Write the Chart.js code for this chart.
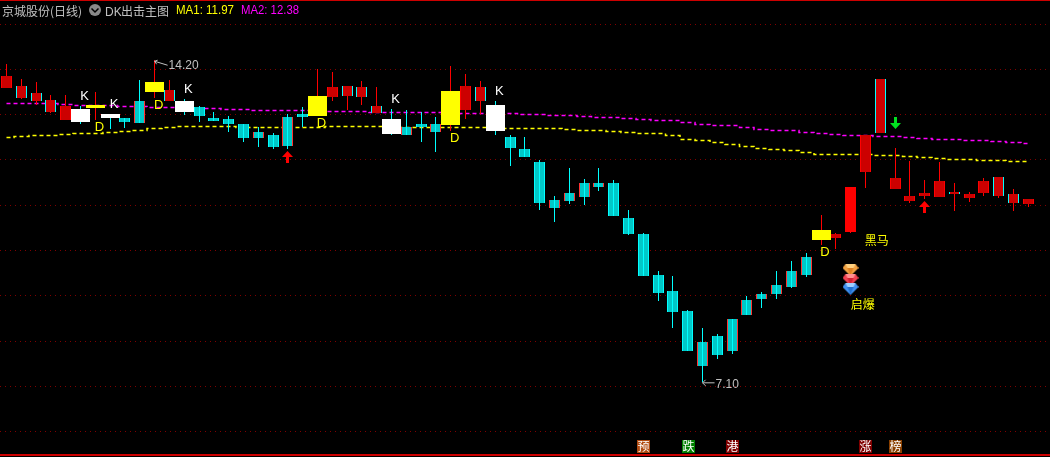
<!DOCTYPE html>
<html>
<head>
<meta charset="utf-8">
<style>
  html, body { margin: 0; padding: 0; background: #000; overflow: hidden; }
  canvas { display: block; }
</style>
<script src="https://cdn.jsdelivr.net/npm/chart.js@4/dist/chart.umd.min.js"></script>
</head>
<body>
<canvas id="graph" width="1050" height="457"></canvas>
<script>
// daily candles, left to right
const opens = [13.59,13.37,13.30,13.06,12.88,13.12,13.15,13.01,12.92,13.30,13.50,13.30,13.30,13.17,12.92,12.90,12.79,12.62,12.55,12.95,13.01,12.97,13.39,13.41,13.39,13.04,12.90,12.73,12.79,12.79,12.77,13.10,13.30,13.21,12.50,12.24,11.95,11.11,11.27,11.49,11.49,11.49,10.72,10.36,9.46,9.10,8.66,7.98,8.11,8.49,8.91,9.04,9.24,9.55,9.85,10.23,10.27,10.41,11.73,12.59,11.36,11.09,11.20,11.18,11.25,11.16,11.27,11.20,11.05,11.03];
const closes = [13.85,13.63,13.48,13.32,13.19,12.84,13.21,12.92,12.84,12.81,13.72,13.54,13.06,12.97,12.86,12.79,12.48,12.48,12.29,12.31,12.95,13.41,13.61,13.63,13.61,13.19,12.57,12.55,12.73,12.62,13.52,13.63,13.61,12.64,12.26,12.06,11.05,10.94,11.09,11.18,11.40,10.76,10.36,9.44,9.06,8.64,7.78,7.45,7.69,7.78,8.57,8.93,9.04,9.19,9.46,10.45,10.36,11.40,12.55,13.79,11.60,11.20,11.27,11.53,11.29,11.25,11.53,11.62,11.25,11.14];
const highs = [14.12,13.79,13.72,13.43,13.43,13.19,13.50,13.01,12.92,13.76,14.20,13.76,13.34,13.19,13.06,12.97,12.79,12.73,12.59,13.01,13.17,14.01,13.94,13.63,13.74,13.61,13.12,13.10,13.06,12.95,14.07,13.90,13.74,13.30,12.55,12.50,12.00,11.20,11.82,11.58,11.82,11.56,10.89,10.38,9.55,9.44,8.69,8.29,8.16,8.49,9.00,9.08,9.55,9.77,9.94,10.78,10.38,11.40,12.55,13.79,12.26,11.98,11.56,11.95,11.49,11.29,11.60,11.62,11.36,11.14];
const lows = [13.59,13.34,13.21,13.04,12.88,12.79,12.88,12.68,12.70,12.81,13.37,13.30,12.99,12.84,12.86,12.62,12.39,12.29,12.24,12.24,12.73,12.97,13.30,13.10,13.21,13.04,12.55,12.55,12.39,12.17,12.64,12.90,13.01,12.55,11.86,12.06,10.89,10.63,11.03,11.00,11.31,10.76,10.34,9.44,8.89,8.29,7.78,7.10,7.60,7.71,8.57,8.73,8.93,9.17,9.41,10.12,10.03,10.38,11.38,12.59,11.36,11.05,11.14,11.18,10.87,11.07,11.20,11.16,10.87,10.96];
const ma1 = [12.50,12.52,12.54,12.56,12.57,12.59,12.60,12.62,12.64,12.66,12.70,12.72,12.74,12.75,12.75,12.74,12.73,12.73,12.73,12.73,12.73,12.73,12.74,12.74,12.74,12.74,12.74,12.73,12.73,12.72,12.72,12.72,12.72,12.71,12.71,12.71,12.71,12.70,12.68,12.66,12.65,12.64,12.62,12.60,12.59,12.54,12.47,12.43,12.39,12.34,12.30,12.26,12.23,12.21,12.17,12.14,12.12,12.12,12.12,12.11,12.10,12.08,12.06,12.05,12.03,12.02,12.00,11.99,11.98,11.97];
const ma2 = [13.26,13.26,13.26,13.25,13.23,13.22,13.21,13.21,13.20,13.19,13.17,13.16,13.15,13.14,13.14,13.13,13.12,13.11,13.10,13.10,13.10,13.10,13.09,13.08,13.07,13.06,13.06,13.05,13.05,13.05,13.05,13.04,13.04,13.03,13.03,13.02,13.01,13.00,12.98,12.97,12.95,12.94,12.93,12.91,12.89,12.87,12.83,12.80,12.78,12.76,12.72,12.69,12.67,12.65,12.62,12.60,12.58,12.56,12.54,12.53,12.52,12.51,12.49,12.47,12.46,12.45,12.43,12.41,12.40,12.38];
const priceTicks = [6,7,8,9,10,11,12,13,14,15];

// signal days
const kDays = [5,7,12,26,33];
const dDays = [6,10,21,30,55];
const upArrows = [[19,12.06],[62,10.96]];
const downArrows = [[60,12.81]];
const gems = [[57,9.57],[57,9.35],[57,9.15]];
const notes = [[57,10.12,'黑马'],[57,8.71,'启爆']];
const peak = [10,14.20,'14.20'];
const trough = [47,7.10,'7.10'];
const badges = [[43,'预'],[46,'跌'],[49,'港'],[58,'涨'],[60,'榜']];

// candles whose edge has the opposite colour
const crossEdge = [1,2,3,11,23,24,25,32,59,64,67,68,9,17,19,27,29,37,38,39,40,47,49,50,51,52,53,54];
const brightDays = [57];

const RED = '#ff0000', DARK_RED = '#cc0000', CYAN = '#00ffff', TEAL = '#00c8c8';
const badgeColors = ['#b04a10','#008000','#800000','#800000','#8a4000'];

const days = opens.map((o, i) => i);
const isUp = i => closes[i] >= opens[i];
const bodyDays = days.filter(i => !kDays.includes(i) && !dDays.includes(i));
const range = (i, a, b) => ({ x: i, y: [a[i], b[i]] });

function icon(w, h, paint) {
    const c = document.createElement('canvas');
    c.width = w;
    c.height = h;
    paint(c.getContext('2d'));
    return c;
}

function poly(g, color, pts) {
    g.fillStyle = color;
    g.beginPath();
    pts.forEach((p, i) => i ? g.lineTo(p[0], p[1]) : g.moveTo(p[0], p[1]));
    g.closePath();
    g.fill();
}

const arrowUp = color => icon(11, 12, g => {
    poly(g, color, [[5.5,0],[11,6],[7,6],[7,12],[4,12],[4,6],[0,6]]);
});
const arrowDown = color => icon(11, 12, g => {
    poly(g, color, [[4,0],[7,0],[7,6],[11,6],[5.5,12],[0,6],[4,6]]);
});
const gem = (light, mid, dark) => icon(16, 12, g => {
    poly(g, mid, [[3,0],[13,0],[16,4],[8,12],[0,4]]);
    poly(g, light, [[3,0],[13,0],[11,4],[5,4]]);
    poly(g, dark, [[5,4],[11,4],[8,12]]);
});

const snap = {
    id: 'snap',
    afterDatasetsUpdate(chart) {
        // keep every mark on whole pixels like the terminal does
        chart.getSortedVisibleDatasetMetas().forEach(meta => {
            meta.data.forEach(el => {
                if (meta.type === 'bar') {
                    el.x = Math.floor(el.x) + 0.5;
                    el.y = Math.round(el.y);
                    el.base = Math.round(el.base);
                } else {
                    el.x = Math.floor(el.x) + 0.5;
                    el.y = Math.round(el.y) + (meta.dataset && meta.dataset.options.stepped ? 0.5 : 0);
                }
            });
        });
    }
};

const decor = {
    id: 'decor',
    beforeDraw(chart) {
        const g = chart.ctx;
        g.fillStyle = '#000';
        g.fillRect(0, 0, chart.width, chart.height);
    },
    afterDatasetsDraw(chart) {
        const g = chart.ctx, x = chart.scales.x, y = chart.scales.y;
        const latin = '13px "Liberation Sans"', cjk = '12px "Noto Sans CJK SC"';
        g.save();
        g.textBaseline = 'alphabetic';
        g.textAlign = 'left';

        // frame
        g.fillStyle = '#cc0000';
        g.fillRect(0, 0, chart.width, 1);
        g.fillRect(0, 454, chart.width, 2);

        // K and D signal letters
        g.font = latin;
        g.textAlign = 'center';
        g.fillStyle = '#ffffff';
        kDays.forEach(i => g.fillText('K', x.getPixelForValue(i) + 4, y.getPixelForValue(highs[i]) - 6));
        g.fillStyle = '#ffff00';
        dDays.forEach(i => g.fillText('D', x.getPixelForValue(i) + 4, y.getPixelForValue(lows[i]) + 11));

        // extreme price labels
        g.textAlign = 'left';
        g.fillStyle = '#c0c0c0';
        g.strokeStyle = '#c0c0c0';
        g.font = '12px "Liberation Sans"';
        const px = x.getPixelForValue(peak[0]), py = y.getPixelForValue(peak[1]);
        g.fillText(peak[2], px + 14, py + 9);
        g.beginPath();
        g.moveTo(px, py + 1); g.lineTo(px + 13, py + 5);
        g.moveTo(px, py + 1); g.lineTo(px + 3, py);
        g.moveTo(px, py + 1); g.lineTo(px + 2, py + 4);
        g.stroke();
        const tx = x.getPixelForValue(trough[0]), ty = y.getPixelForValue(trough[1]);
        g.fillText(trough[2], tx + 13, ty + 6);
        g.beginPath();
        g.moveTo(tx, ty + 1); g.lineTo(tx + 12, ty + 1);
        g.moveTo(tx, ty + 1); g.lineTo(tx + 3, ty - 2);
        g.moveTo(tx, ty + 1); g.lineTo(tx + 3, ty + 4);
        g.stroke();

        // yellow notes
        g.font = cjk;
        g.fillStyle = '#ffff00';
        g.fillText(notes[0][2], x.getPixelForValue(notes[0][0]) + 14, y.getPixelForValue(notes[0][1]));
        g.fillText(notes[1][2], x.getPixelForValue(notes[1][0]), y.getPixelForValue(notes[1][1]));

        // badges along the bottom
        g.textAlign = 'center';
        badges.forEach((b, n) => {
            const cx = Math.round(x.getPixelForValue(b[0]));
            g.fillStyle = badgeColors[n];
            g.fillRect(cx - 6, 440, 13, 13);
            g.fillStyle = '#ffffff';
            g.fillText(b[1], cx + 0.5, 451);
        });

        // header
        g.textAlign = 'left';
        g.fillStyle = '#c0c0c0';
        g.fillText('京城股份(日线)', 2, 16);
        g.fillText('出击主图', 121, 16);
        g.font = '12px "Liberation Sans"';
        g.fillText('DK', 105, 16);
        g.fillStyle = '#8a8a8a';
        g.beginPath();
        g.arc(95, 10, 6, 0, Math.PI * 2);
        g.fill();
        g.strokeStyle = '#000';
        g.lineWidth = 1.5;
        g.beginPath();
        g.moveTo(91.5, 8.5); g.lineTo(95, 12); g.lineTo(98.5, 8.5);
        g.stroke();
        g.fillStyle = '#ffff00';
        g.fillText('MA1: 11.97', 176, 14, 58);
        g.fillStyle = '#ff00ff';
        g.fillText('MA2: 12.38', 241, 14, 58);
        g.restore();
    }
};

function barSet(data, width, color, order, edge) {
    return {
        type: 'bar',
        data: data,
        order: order,
        grouped: false,
        barThickness: width,
        maxBarThickness: width,
        barPercentage: 1,
        categoryPercentage: 1,
        inflateAmount: 0,
        backgroundColor: color,
        borderColor: edge || color,
        borderWidth: edge ? { left: 1, right: 1, top: 0, bottom: 0 } : 0,
        borderSkipped: false
    };
}

function maSet(values, color) {
    return {
        type: 'line',
        data: values.map((v, i) => ({ x: i, y: v })),
        order: 6,
        borderColor: color,
        borderWidth: 1.5,
        borderDash: [4, 3],
        pointRadius: 0,
        tension: 0,
        stepped: 'middle'
    };
}

function pointSet(points, styles, size) {
    return {
        type: 'line',
        data: points.map(p => ({ x: p[0], y: p[1] })),
        order: 0,
        showLine: false,
        pointStyle: styles,
        pointRadius: size
    };
}

const bodyColor = i => brightDays.includes(i) ? RED : (isUp(i) ? DARK_RED : TEAL);
const edgeColor = i => {
    const cross = crossEdge.includes(i);
    if (isUp(i)) return cross ? CYAN : RED;
    return cross ? '#ff3333' : CYAN;
};

const datasets = [
    maSet(ma1, '#ffff00'),
    maSet(ma2, '#ff00ff'),
    barSet(days.filter(isUp).map(i => range(i, lows, highs)), 1, RED, 5),
    barSet(bodyDays.map(i => range(i, opens, closes)), 11, bodyDays.map(bodyColor), 4, bodyDays.map(edgeColor)),
    barSet(days.filter(i => !isUp(i)).map(i => range(i, lows, highs)), 1, CYAN, 3),
    barSet(kDays.map(i => range(i, opens, closes)), 19, '#ffffff', 2),
    barSet(dDays.map(i => range(i, opens, closes)), 19, '#ffff00', 2),
    pointSet(upArrows, upArrows.map(() => arrowUp('#ff0000')), 6),
    pointSet(downArrows, downArrows.map(() => arrowDown('#00e020')), 6),
    pointSet(gems, [gem('#ffd080', '#f0a040', '#e08020'), gem('#ff9090', '#f04050', '#d02030'), gem('#a0d0ff', '#4090f0', '#2070d0')], 8)
];

const myChart = new Chart(document.querySelector('#graph').getContext('2d'), {
    data: { datasets: datasets },
    plugins: [snap, decor],
    options: {
        responsive: false,
        animation: false,
        devicePixelRatio: 1,
        layout: { padding: 0, autoPadding: false },
        plugins: { legend: { display: false }, tooltip: { enabled: false } },
        scales: {
            x: { type: 'linear', offset: false, min: -0.439, max: 70.46, display: false },
            y: {
                type: 'linear',
                min: 5.44,
                max: 15.53,
                afterBuildTicks: s => { s.ticks = priceTicks.map(v => ({ value: v })); },
                afterFit: s => { s.width = 0; },
                ticks: { display: false },
                border: { display: false, dash: [1, 4] },
                grid: { color: '#800000', lineWidth: 1, drawTicks: false }
            }
        }
    }
});
</script>
</body>
</html>
